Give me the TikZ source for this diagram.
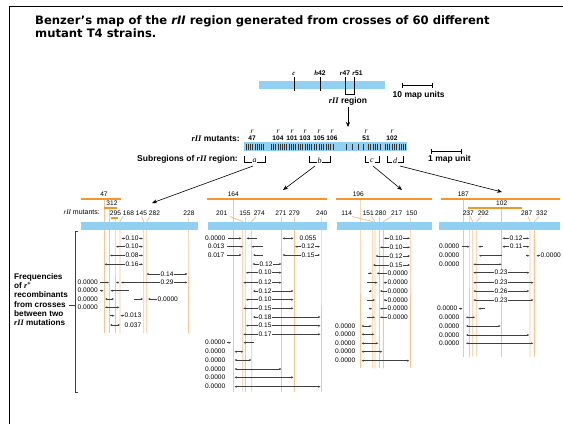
\documentclass[tikz,border=0pt]{standalone}
\usepackage{fontspec}
\setmainfont{Liberation Serif}
\setsansfont{Liberation Sans}
\newfontfamily\headfont{DejaVu Sans}
\usetikzlibrary{arrows.meta}

\definecolor{barblue}{RGB}{145,208,240}
\definecolor{delorange}{RGB}{242,152,40}
\definecolor{siteorange}{RGB}{248,196,148}

\newcommand\vsmall{\sffamily\fontsize{6.6}{7}\selectfont}
\newcommand\lbl{\sffamily\bfseries\fontsize{8.5}{9}\selectfont}
\newcommand\rit[1]{{\rmfamily\itshape #1}}

\tikzset{
  >={Stealth[length=2.4pt,width=2pt]},
  gap/.style={draw=black!75,line width=0.45pt},
  both/.style={gap,<->},
  tor/.style={gap,->},
  tol/.style={gap,<-},
  val/.style={font=\vsmall,fill=white,inner sep=0.5pt},
  num/.style={font=\vsmall,anchor=base,inner sep=0pt},
  delbar/.style={draw=delorange,line width=2.6pt},
  site/.style={draw=siteorange,line width=0.9pt},
  bigarrow/.style={-{Stealth[length=5pt,width=4pt]},line width=0.6pt},
}

% double arrow with its value: y, x1, x2, x of value, value
\newcommand\recdist[5]{\draw[both] (#2,#1) -- (#3,#1); \node[val] at (#4,#1) {#5};}
% 0.0000 ending at x: y, x
\newcommand\zeroat[2]{\node[val,anchor=east] at (#2,#1) {0.0000};}

\begin{document}
\begin{tikzpicture}[x=1pt,y=-1pt]
\useasboundingbox (0,0) rectangle (563,424);
\draw[line width=0.8pt] (9,424) -- (9,6) -- (563,6);

\node (head1) [anchor=base west,inner sep=0,font=\headfont\bfseries\fontsize{11.6}{13}\selectfont] at (35,24)
  {Benzer’s map of the \textit{rII} region generated from crosses of 60 different};
\node (head2) [anchor=base west,inner sep=0,font=\headfont\bfseries\fontsize{11.6}{13}\selectfont] at (35,37.5)
  {mutant T4 strains.};

% whole map
\fill[barblue] (259,81) rectangle (385,89);
\foreach \x in {294,320,345,354} \draw[line width=0.6pt] (\x,77) -- (\x,91);
\draw[line width=0.5pt] (345,91) -- (345,94) -- (354,94) -- (354,91);
\begin{scope}[every node/.style={anchor=base,inner sep=0pt,font=\sffamily\bfseries\fontsize{6.8}{7}\selectfont}]
  \node at (294,75.5) {\rit{c}};
  \node at (320,75.5) {\rit{h}42};
  \node at (345,75.5) {\rit{r}47};
  \node at (357.5,75.5) {\rit{r}51};
\end{scope}
\draw (402,85) -- (432,85) (402,82.5) -- (402,87.5) (432,82.5) -- (432,87.5);
\node[anchor=base west,inner sep=0,font=\lbl] at (392.5,97.5) {10 map units};
\node (region) [anchor=base,inner sep=0,font=\lbl] at (348,103.5) {\rit{rII} region};
\draw[bigarrow] (348,107) -- (348,127);

% rII map
\node[anchor=base east,inner sep=0,font=\lbl] at (240,141) {\rit{rII} mutants:};
\foreach \x/\n in {252/47,278/104,292/101,305/103,319/105,332/106,366/51,392/102} {
  \node[anchor=base,inner sep=0,font=\rmfamily\itshape\fontsize{7.5}{8}\selectfont] at (\x,133) {r};
  \node[anchor=base,inner sep=0,font=\sffamily\bfseries\fontsize{6.6}{7}\selectfont] at (\x,140.5) {\n};
}
\fill[barblue] (244,142) rectangle (407,151);
\foreach \x in {246.5,248.5,250.5,252.5,255,257,259,261.5,263.5,271,273,275.5,278,280,282,284,286.5,289,291,293,295.5,298,300,
  302.5,305,307,309.5,311.5,314,316.5,319,321,323.5,326,328,330.5,333,346,352.5,358,363,368.5,370.5,373,375,377.5,380,
  385,387.5,389.5,392,394,396.5,399,401,403.5,405.5}
  \draw[line width=0.3pt,black!80] (\x,143.5) -- (\x,149.5);
\node[anchor=base east,inner sep=0,font=\lbl] at (238,161.5) {Subregions of \rit{rII} region:};
\foreach \a/\b/\l in {244/265/a,309/330/b,365/379/c,387/403/d} {
  \draw[line width=0.5pt] (\a,156) |- (\b,162.5) -- (\b,156);
  \node[fill=white,inner sep=0.8pt,font=\rmfamily\itshape\fontsize{8}{8}\selectfont] at ({(\a+\b)/2},160.5) {\l};
}
\draw (431,151) -- (461,151) (431,148.5) -- (431,153.5) (461,148.5) -- (461,153.5);
\node[anchor=base west,inner sep=0,font=\lbl] at (428,161.5) {1 map unit};
\draw[bigarrow] (253,166) -- (152,203);
\draw[bigarrow] (315,166) -- (283,190);
\draw[bigarrow] (373,166) -- (402,190);
\draw[bigarrow] (400,166) -- (502,192);

% sites of the mutants in the four subregions
\foreach \u/\t/\x in {104.3/199/104.3,109.3/208/109.3,115/219/115,123/216.5/120,141.7/216.5/143.7,150/216.5/146.7,188/216.5/188}
  \draw[site] (\u,\t) -- (\x,221.5) -- (\x,333);
\foreach \u/\t/\x in {233.3/199/233.3,230/216.5/242.7,245/216.5/245,256/216.5/251.7,281.7/216.5/281.7,294.3/216.5/294.3,321/216.5/321}
  \draw[site] (\u,\t) -- (\x,221.5) -- (\x,391.7);
\foreach \u/\t/\x in {360/199/360,352/216.5/372.7,371.5/216.5/375,379.3/216.5/379.3,391.7/216.5/383.3,410/216.5/410}
  \draw[site] (\u,\t) -- (\x,221.5) -- (\x,368.3);
\foreach \u/\t/\x in {463.3/199/463.3,469/208/469,470/216.5/472.7,481/216.5/476.7,501.7/208/501.7,528/216.5/530,539/216.5/534.3}
  \draw[site] (\u,\t) -- (\x,221.5) -- (\x,356.7);

\fill[barblue] (81,222) rectangle (198,230);
\fill[barblue] (208,222) rectangle (327,230);
\fill[barblue] (337,222) rectangle (432,230);
\fill[barblue] (439,222) rectangle (560,230);

% deletions
\draw[delbar] (81,199) -- (121,199) (104,208) -- (117,208) (111,218) -- (118,218);
\draw[delbar] (207,199) -- (327,199);
\draw[delbar] (336,199) -- (432,199);
\draw[delbar] (441,199) -- (560,199) (468,208) -- (522,208);
\foreach \x/\y/\n in {104/196/47,112/205.5/312,233.3/196/164,358.3/196/196,463.3/196/187,501.7/205/102}
  \node[num] at (\x,\y) {\n};

\node[anchor=base east,inner sep=0,font=\sffamily\fontsize{7}{7}\selectfont] at (100,214.5) {\rit{rII} mutants:};
\foreach \x/\n in {115.5/295,128.5/168,141.5/145,154.5/282,189/228,221.7/201,245/155,259.3/274,281/271,294.3/279,321.7/240,
  346.7/114,368.3/151,380.7/280,396.7/217,411.7/150,468.3/237,483.3/292,526.7/287,541.7/332}
  \node[num] at (\x,215) {\n};

% left bracket
\draw[line width=0.5pt,black!75] (78,231) -- (75,231) -- (75,392) -- (78,392) (69,305) -- (75,305);
\foreach \t [count=\i] in {Frequencies,of \rit{r}\textsuperscript{+},recombinants,from crosses,between two,\rit{rII} mutations}
  \node[anchor=base west,inner sep=0,font=\sffamily\bfseries\fontsize{8.2}{9}\selectfont] at (14,270.3+9.2*\i) {\t};

% subregion a
\recdist{238.5}{121.5}{143}{132}{0.10}
\recdist{246.7}{116}{143}{132}{0.10}
\recdist{255.5}{110}{143}{132}{0.08}
\recdist{264.3}{104.5}{143}{132}{0.16}
\recdist{274}{146.5}{187.5}{167}{0.14}
\zeroat{282.5}{98.5}\draw[tor] (100,282.5) -- (109,282.5); \draw[tol] (116,282.5) -- (119,282.5);
\recdist{282.5}{121}{187.5}{167}{0.29}
\zeroat{290.7}{98.5}\draw[tor] (99.5,290.7) -- (103.5,290.7); \draw[tol] (110.5,290.7) -- (128.5,290.7);
\zeroat{299}{98.5}\draw[both] (105,299) -- (114,299); \draw[tor] (133.5,299) -- (143,299);
\draw[tol] (148,299) -- (157,299) node[val,anchor=west] {0.0000};
\zeroat{307.3}{98.5}\draw[both] (105,307.3) -- (119.5,307.3);
\draw[tor] (109.5,315.7) -- (114.5,315.7); \draw[tol] (120.5,315.7) -- (124,315.7) node[val,anchor=west] {0.013};
\draw[both] (110,325) -- (120,325); \node[val,anchor=west] at (124,325) {0.037};

% subregion b
\zeroat{238.3}{226}\draw[tor] (228,238.3) -- (241.5,238.3); \draw[tol] (246.5,238.3) -- (256.5,238.3);
\draw[both] (282.5,238.3) -- (293.5,238.3); \node[val,anchor=west] at (299,238.3) {0.055};
\node[val,anchor=east] at (225,246.7) {0.013}; \draw[tor] (227,246.7) -- (243,246.7); \draw[tol] (251.5,246.7) -- (263,246.7);
\recdist{246.7}{295}{320}{308}{0.12}
\node[val,anchor=east] at (225,255) {0.017}; \draw[tor] (227,255) -- (241.5,255); \draw[tol] (253,255) -- (263,255);
\recdist{255}{282.5}{320}{308}{0.15}
\recdist{264}{252.5}{281.5}{266}{0.12}
\recdist{272.7}{246}{281.5}{265}{0.10}
\recdist{282.7}{243.3}{281.5}{265}{0.12}
\recdist{291}{253}{293.5}{265}{0.12}
\recdist{299.7}{246}{293.5}{265}{0.10}
\recdist{308.3}{243.3}{293.5}{265}{0.15}
\recdist{317}{253}{320.5}{265}{0.18}
\recdist{325.7}{246}{320.5}{265}{0.15}
\recdist{334.3}{243.3}{320.5}{265}{0.17}
\zeroat{342.7}{226}\draw[tor] (227,342.7) -- (231,342.7); \draw[tol] (243.5,342.7) -- (253.5,342.7);
\foreach \y/\b in {351.7/243.3,360/251.5,369/281.5,377.3/293.5,386.7/320.5}
  {\zeroat{\y}{226}\draw[both] (234.5,\y) -- (\b,\y);}

% subregion c
\recdist{238.3}{384}{410}{396}{0.10}
\recdist{247.3}{380}{410}{396}{0.10}
\recdist{256}{375.5}{410}{396}{0.12}
\recdist{265}{373}{410}{396}{0.15}
\foreach \y/\a/\b/\c in {273.3/368/372/376.7,282.7/367.3/377.5/383.5,291/369/372/380,300/367.3/375/383.5,308.7/369/372/380,317.3/367.3/375/380}
  {\draw[tor] (\a,\y) -- (\b,\y); \draw[tol] (\c,\y) -- (387,\y) node[val,anchor=west] {0.0000};}
\foreach \y/\b in {326/371.7,334.3/374.3,343.3/378.3,351.7/382.3,360.7/409.3}
  {\zeroat{\y}{356}\draw[both] (361.5,\y) -- (\b,\y);}

% subregion d
\recdist{238.3}{502.5}{529.3}{516}{0.12}
\zeroat{246.7}{460}\draw[tor] (462,246.7) -- (469.5,246.7); \draw[tol] (478.3,246.7) -- (483.3,246.7);
\recdist{246.7}{502.5}{529.3}{516}{0.11}
\zeroat{255.7}{460}\draw[tol] (479,255.7) -- (501.7,255.7); \draw[tor] (526,255.7) -- (529.5,255.7);
\draw[tol] (536.5,255.7) -- (540,255.7) node[val,anchor=west] {0.0000};
\zeroat{264.3}{460}\draw[both] (473.3,264.3) -- (501.7,264.3);
\recdist{272.7}{473.3}{529.3}{501}{0.23}
\recdist{282.7}{473.3}{533.5}{501}{0.23}
\recdist{291}{473.3}{529.3}{501}{0.26}
\recdist{300}{473.3}{533.5}{501}{0.23}
\zeroat{308.7}{458}\draw[tor] (458.5,308.7) -- (462.5,308.7); \draw[tol] (478.3,308.7) -- (485,308.7);
\foreach \y/\b in {317.3/475,326/500.7,335/529.3,343.3/533.3}
  {\zeroat{\y}{460}\draw[both] (466,\y) -- (\b,\y);}
\end{tikzpicture}
\end{document}
